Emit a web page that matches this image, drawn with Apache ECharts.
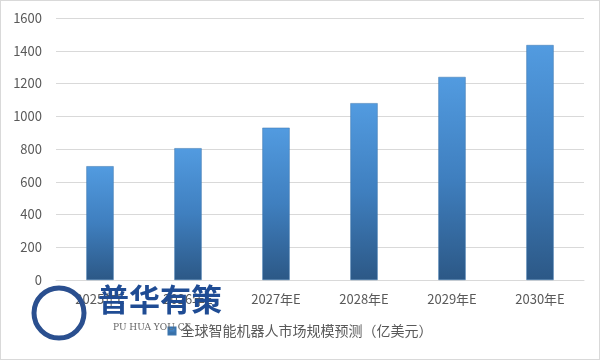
<!DOCTYPE html>
<html><head><meta charset="utf-8">
<script src="https://cdn.jsdelivr.net/npm/echarts@6/dist/echarts.min.js"></script>
<style>html,body{margin:0;padding:0;background:#fff}#c{width:600px;height:360px;box-sizing:border-box;border:1px solid #d9d9d9}</style>
</head><body><div id="c"></div>
<script>
const categories = ['2025年E','2026年E','2027年E','2028年E','2029年E','2030年E'];
const values = [695, 805, 930, 1080, 1240, 1435];
const seriesName = '全球智能机器人市场规模预测（亿美元）';
const yTicks = {min: 0, max: 1600, interval: 200};

const chart = echarts.init(document.getElementById('c'));
const font = '"Noto Sans CJK SC", "Microsoft YaHei", sans-serif';
chart.setOption({
  animation: false,
  textStyle: {fontFamily: font},
  grid: {left: 55, right: 15, top: 17, bottom: 79},
  legend: {
    bottom: 16, left: 'center',
    itemWidth: 7, itemHeight: 7, itemGap: 5,
    icon: 'rect',
    textStyle: {color: '#595959', fontSize: 14, fontFamily: font},
    data: [seriesName]
  },
  xAxis: {
    type: 'category', data: categories,
    axisLine: {lineStyle: {color: '#d9d9d9'}},
    axisTick: {show: false},
    axisLabel: {color: '#595959', fontSize: 13, margin: 13, fontFamily: font}
  },
  yAxis: {
    type: 'value', min: yTicks.min, max: yTicks.max, interval: yTicks.interval,
    axisLine: {show: false}, axisTick: {show: false},
    axisLabel: {color: '#595959', fontSize: 13, margin: 14, fontFamily: font, formatter: v => String(v)},
    splitLine: {lineStyle: {color: '#d9d9d9'}}
  },
  series: [{
    name: seriesName, type: 'bar', data: values, barWidth: '31%',
    itemStyle: {
      color: new echarts.graphic.LinearGradient(0, 0, 0, 1, [
        {offset: 0, color: '#529be0'},
        {offset: 0.5, color: '#3f7fbf'},
        {offset: 1, color: '#2c5886'}
      ]),
      borderColor: '#3a74ad', borderWidth: 0.5
    }
  }],
  graphic: [
    {type: 'circle', shape: {cx: 58, cy: 312, r: 25}, style: {fill: 'none', stroke: '#2a4f8f', lineWidth: 5}, z: 100},
    {type: 'text', left: 97, top: 283, style: {text: '普华有策', font: 'bold 31px "Noto Sans CJK SC"', fill: '#1f4c94'}, z: 100},
    {type: 'text', left: 112, top: 322, style: {text: 'PU HUA YOU CE', font: '9px "DejaVu Serif"', fill: '#666'}, z: 100}
  ]
});
</script></body></html>
